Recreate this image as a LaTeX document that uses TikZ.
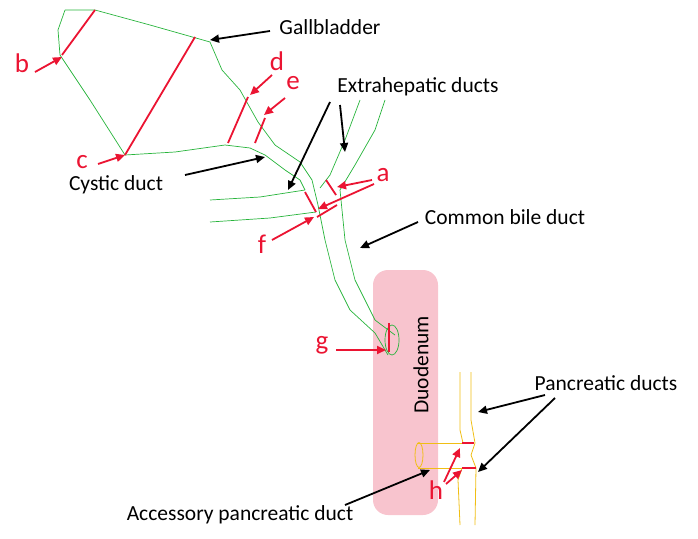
\documentclass[tikz,border=0pt]{standalone}
\usepackage{fontspec}
\setmainfont{Carlito}
\usetikzlibrary{arrows.meta}
\definecolor{gr}{RGB}{40,180,60}
\definecolor{rd}{RGB}{235,20,50}
\definecolor{yl}{RGB}{240,190,20}
\definecolor{pk}{RGB}{248,196,206}
\tikzset{x=1pt,y=-1pt,
 duct/.style={gr,line width=0.7pt},
 pduct/.style={yl,line width=0.8pt},
 rmark/.style={rd,line width=1.8pt},
 blk/.style={-{Triangle[length=9pt,width=8pt]},line width=1.8pt,black},
 rarr/.style={-{Triangle[length=9pt,width=8pt]},line width=1.8pt,rd},
 lab/.style={font=\fontsize{21.5}{24}\selectfont},
 rlab/.style={font=\fontsize{27}{29}\selectfont,text=rd}}
\begin{document}
\begin{tikzpicture}
\useasboundingbox (0,0) rectangle (698,538);
% duodenum
\fill[pk,rounded corners=15pt] (373,270) rectangle (438,515);
\node[lab,rotate=90] (duo) at (421,365) {Duodenum};
% gallbladder and ducts
\draw[duct] (65,10)--(95,10)--(150,25)--(210,42)--(222,70)--(240,90)--(258,122)--(275,145)--(300,162)--(312,180)--(318,205)--(325,240)--(335,280)--(350,310)--(375,333)--(388,355);
\draw[duct] (65,10)--(58,30)--(60,55)--(90,100)--(125,155)--(175,152)--(225,145)--(250,148)--(265,155)--(285,170)--(300,180)--(305,190);
\draw[duct] (360,100)--(345,140)--(330,175)--(320,188);
\draw[duct] (385,100)--(375,130)--(355,165)--(340,190)--(345,240)--(355,280)--(375,320)--(395,335);
\draw[duct] (210,200)--(260,197)--(305,190);
\draw[duct] (210,222)--(270,218)--(316,212);
\draw[duct] (392,340) ellipse [x radius=7,y radius=15];
% pancreatic
\draw[pduct] (460,372)--(460,430)--(463,443);
\draw[pduct] (462,468)--(458,480)--(460,525);
\draw[pduct] (471,372)--(471,420)--(475,443)--(471,455)--(476,468)--(475,525);
\draw[pduct] (418,443)--(462,443) (418,468)--(462,468);
\draw[pduct] (419,455) ellipse [x radius=4,y radius=12.5];
% red marks
\draw[rmark] (62,55)--(95,10);
\draw[rmark] (125,155)--(195,37);
\draw[rmark] (228,143)--(248,97);
\draw[rmark] (255,143)--(265,118);
\draw[rmark] (326,180)--(336,195);
\draw[rmark] (305,192)--(316,212);
\draw[rmark] (317,217)--(337,205);
\draw[rmark] (389,323)--(389,352);
\draw[rmark] (462,443)--(474,443);
\draw[rmark] (462,468)--(476,468);
% labels
\node[lab] (gb) at (330,27) {Gallbladder};
\node[lab] (ex) at (418,87) {Extrahepatic ducts};
\node[lab] (cy) at (116,185) {Cystic duct};
\node[lab] (cb) at (505,217) {Common bile duct};
\node[lab] (pd) at (606,383) {Pancreatic ducts};
\node[lab] (ap) at (240,515) {Accessory pancreatic duct};
\node[rlab] (b) at (22,63) {b};
\node[rlab] (c) at (82,162) {c};
\node[rlab] (d) at (277,61) {d};
\node[rlab] (e) at (293,83) {e};
\node[rlab] (a) at (383,175) {a};
\node[rlab] (f) at (262,244) {f};
\node[rlab] (g) at (322,345) {g};
\node[rlab] (h) at (436,490) {h};
% coordinates for arrow tips
\coordinate (gbT) at (210,40);
\coordinate (ex1) at (288,190);
\coordinate (ex2) at (345,152);
\coordinate (cyT) at (265,157);
\coordinate (cbT) at (360,248);
\coordinate (pd1) at (478,412);
\coordinate (pd2) at (478,472);
\coordinate (apT) at (430,470);
\coordinate (bT) at (62,57);
\coordinate (cT) at (125,155);
\coordinate (dT) at (250,95);
\coordinate (eT) at (264,115);
\coordinate (a1) at (337,187);
\coordinate (a2) at (318,209);
\coordinate (fT) at (314,217);
\coordinate (gT) at (386,350);
\coordinate (h1) at (460,448);
\coordinate (h2) at (462,470);
% black arrows
\draw[blk] (270,31)--(gbT);
\draw[blk] (330,102)--(ex1);
\draw[blk] (340,105)--(ex2);
\draw[blk] (185,175)--(cyT);
\draw[blk] (418,222)--(cbT);
\draw[blk] (545,395)--(pd1);
\draw[blk] (555,398)--(pd2);
\draw[blk] (345,505)--(apT);
% red arrows
\draw[rarr] (35,72)--(bT);
\draw[rarr] (98,164)--(cT);
\draw[rarr] (272,75)--(dT);
\draw[rarr] (285,98)--(eT);
\draw[rarr] (372,180)--(a1);
\draw[rarr] (374,184)--(a2);
\draw[rarr] (272,240)--(fT);
\draw[rarr] (336,350)--(gT);
\draw[rarr] (444,482)--(h1);
\draw[rarr] (446,484)--(h2);
\end{tikzpicture}
\end{document}
